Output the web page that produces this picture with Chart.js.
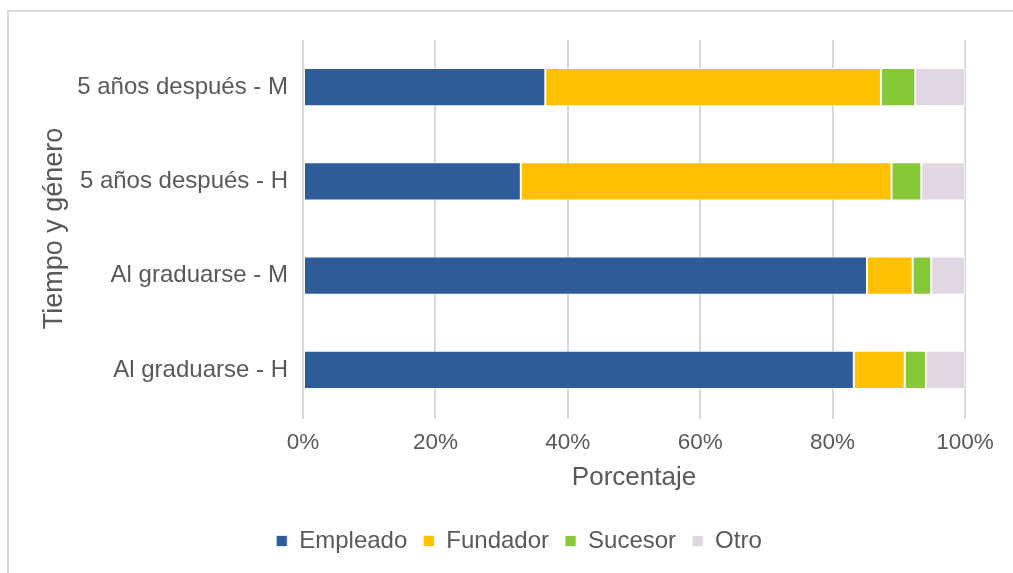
<!DOCTYPE html>
<html>
<head>
<meta charset="utf-8">
<script src="https://cdn.jsdelivr.net/npm/chart.js@4"></script>
<style>
  html, body { margin: 0; padding: 0; background: #fff; }
  #wrap { position: relative; width: 1013px; height: 573px; overflow: hidden; }
  #frame { position: absolute; left: 7px; top: 10px; width: 1020px; height: 580px; border: 2px solid #d9d9d9; pointer-events: none; }
</style>
</head>
<body>
<div id="wrap">
  <canvas id="chart" width="1013" height="573"></canvas>
  <div id="frame"></div>
</div>
<script>
const categories = ['5 años después - M', '5 años después - H', 'Al graduarse - M', 'Al graduarse - H'];
const empleado = [36.6, 32.9, 85.2, 83.2];
const fundador = [50.7, 56.0, 6.9, 7.7];
const sucesor = [5.2, 4.5, 2.8, 3.2];
const otro = [7.5, 6.6, 5.1, 5.9];
const tickValues = [0, 20, 40, 60, 80, 100];

const textColor = '#595959';
const fontFamily = '"Liberation Sans", Arial, Helvetica, sans-serif';

function ds(label, data, color) {
  return {
    label: label,
    data: data,
    backgroundColor: color,
    borderColor: 'rgba(255,255,255,0.7)',
    borderWidth: 1,
    borderSkipped: false,
    barPercentage: 1,
    categoryPercentage: 0.405
  };
}

const ctx = document.getElementById('chart');
new Chart(ctx, {
  type: 'bar',
  data: {
    labels: categories,
    datasets: [
      ds('Empleado', empleado, '#2E5C98'),
      ds('Fundador', fundador, '#FFC000'),
      ds('Sucesor', sucesor, '#86C837'),
      ds('Otro', otro, '#E1D6E3')
    ]
  },
  options: {
    indexAxis: 'y',
    responsive: false,
    animation: false,
    layout: {
      padding: { top: 40, left: 25, right: 0, bottom: 10 }
    },
    plugins: {
      legend: {
        position: 'bottom',
        labels: {
          boxWidth: 11,
          boxHeight: 11,
          padding: 16,
          color: textColor,
          font: { family: fontFamily, size: 24 }
        }
      },
      tooltip: { enabled: false }
    },
    scales: {
      x: {
        stacked: true,
        min: 0,
        max: 100,
        afterBuildTicks: function (scale) {
          scale.ticks = tickValues.map(v => ({ value: v }));
        },
        afterFit: function (scale) { scale.height = 96; },
        grid: { color: '#d9d9d9', lineWidth: 2, tickLength: 2 },
        border: { display: false },
        ticks: {
          padding: 10,
          color: textColor,
          font: { family: fontFamily, size: 22.5 },
          callback: v => v + '%'
        },
        title: {
          display: true,
          text: 'Porcentaje',
          color: textColor,
          font: { family: fontFamily, size: 26 },
          padding: { top: 4, bottom: 20 }
        }
      },
      y: {
        stacked: true,
        afterFit: function (scale) { scale.width = 278; },
        grid: { display: false, drawTicks: false },
        border: { display: false },
        ticks: {
          padding: 15,
          color: textColor,
          font: { family: fontFamily, size: 24 }
        },
        title: {
          display: true,
          text: 'Tiempo y género',
          color: textColor,
          font: { family: fontFamily, size: 27 },
          padding: { top: 13, bottom: 0 }
        }
      },
      yRight: {
        axis: 'y',
        type: 'category',
        position: 'right',
        afterFit: function (scale) { scale.width = 48; },
        grid: { display: false, drawTicks: false },
        border: { display: false },
        ticks: { display: false }
      }
    }
  }
});
</script>
</body>
</html>
